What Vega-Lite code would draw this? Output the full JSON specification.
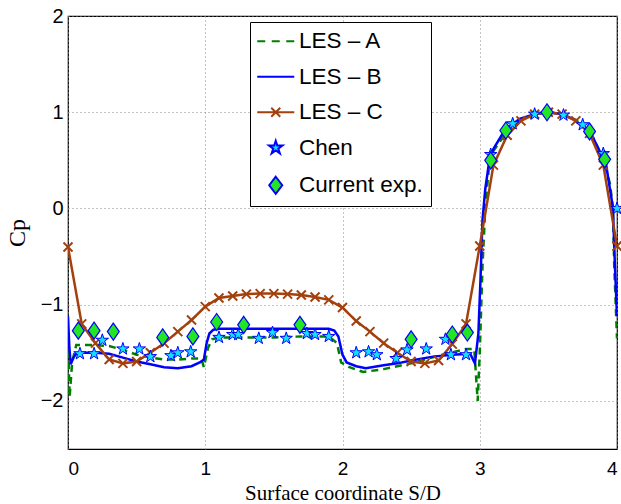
{
  "$schema": "https://vega.github.io/schema/vega-lite/v6.json",
  "width": 549,
  "height": 433,
  "autosize": {"type": "none"},
  "padding": {"left": 68, "top": 16, "right": 4, "bottom": 55},
  "background": "white",
  "config": {
    "view": {"stroke": "black", "strokeWidth": 1.2},
    "axis": {
      "labelFont": "Liberation Sans",
      "labelFontSize": 20,
      "labelColor": "black",
      "titleFont": "Liberation Serif",
      "titleFontSize": 24,
      "titleFontWeight": "normal",
      "titleColor": "black",
      "ticks": false,
      "domain": false,
      "grid": true,
      "gridDash": [1, 3],
      "gridColor": "#888888",
      "gridWidth": 1
    }
  },
  "datasets": {
    "lesA": [
      {"S": 0, "Cp": -1.35}, {"S": 0.012, "Cp": -1.96}, {"S": 0.03, "Cp": -1.6}, {"S": 0.06, "Cp": -1.42},
      {"S": 0.1, "Cp": -1.42}, {"S": 0.2, "Cp": -1.42}, {"S": 0.3, "Cp": -1.43}, {"S": 0.4, "Cp": -1.47},
      {"S": 0.5, "Cp": -1.52}, {"S": 0.6, "Cp": -1.55}, {"S": 0.7, "Cp": -1.57}, {"S": 0.8, "Cp": -1.57},
      {"S": 0.9, "Cp": -1.56}, {"S": 0.97, "Cp": -1.56}, {"S": 0.99, "Cp": -1.65}, {"S": 1.02, "Cp": -1.45},
      {"S": 1.05, "Cp": -1.36}, {"S": 1.1, "Cp": -1.34}, {"S": 1.3, "Cp": -1.34}, {"S": 1.5, "Cp": -1.34},
      {"S": 1.7, "Cp": -1.33}, {"S": 1.9, "Cp": -1.33}, {"S": 1.96, "Cp": -1.4}, {"S": 1.99, "Cp": -1.6},
      {"S": 2.05, "Cp": -1.65}, {"S": 2.15, "Cp": -1.7}, {"S": 2.3, "Cp": -1.67}, {"S": 2.5, "Cp": -1.61},
      {"S": 2.7, "Cp": -1.53}, {"S": 2.9, "Cp": -1.46}, {"S": 2.96, "Cp": -1.46}, {"S": 2.985, "Cp": -2.0},
      {"S": 3.0, "Cp": -1.5}, {"S": 3.02, "Cp": -0.6}, {"S": 3.04, "Cp": 0.0}, {"S": 3.07, "Cp": 0.48},
      {"S": 3.1, "Cp": 0.6}, {"S": 3.2, "Cp": 0.8}, {"S": 3.3, "Cp": 0.92}, {"S": 3.4, "Cp": 0.98},
      {"S": 3.5, "Cp": 1.0}, {"S": 3.6, "Cp": 0.98}, {"S": 3.7, "Cp": 0.92}, {"S": 3.8, "Cp": 0.8},
      {"S": 3.9, "Cp": 0.52}, {"S": 3.95, "Cp": 0.25}, {"S": 3.97, "Cp": 0.0}, {"S": 3.98, "Cp": -0.6},
      {"S": 4.0, "Cp": -1.35}
    ],
    "lesB": [
      {"S": 0, "Cp": -1.12}, {"S": 0.01, "Cp": -1.45}, {"S": 0.02, "Cp": -1.62}, {"S": 0.04, "Cp": -1.55},
      {"S": 0.06, "Cp": -1.51}, {"S": 0.1, "Cp": -1.5}, {"S": 0.2, "Cp": -1.5}, {"S": 0.3, "Cp": -1.51},
      {"S": 0.4, "Cp": -1.55}, {"S": 0.5, "Cp": -1.59}, {"S": 0.6, "Cp": -1.62}, {"S": 0.7, "Cp": -1.65},
      {"S": 0.8, "Cp": -1.66}, {"S": 0.9, "Cp": -1.64}, {"S": 0.96, "Cp": -1.6}, {"S": 0.99, "Cp": -1.57},
      {"S": 1.01, "Cp": -1.4}, {"S": 1.03, "Cp": -1.3}, {"S": 1.06, "Cp": -1.26}, {"S": 1.1, "Cp": -1.25},
      {"S": 1.5, "Cp": -1.25}, {"S": 1.9, "Cp": -1.25}, {"S": 1.94, "Cp": -1.27}, {"S": 1.97, "Cp": -1.33},
      {"S": 2.0, "Cp": -1.52}, {"S": 2.03, "Cp": -1.6}, {"S": 2.1, "Cp": -1.64}, {"S": 2.17, "Cp": -1.66},
      {"S": 2.3, "Cp": -1.63}, {"S": 2.4, "Cp": -1.61}, {"S": 2.5, "Cp": -1.58}, {"S": 2.66, "Cp": -1.54},
      {"S": 2.8, "Cp": -1.52}, {"S": 2.93, "Cp": -1.51}, {"S": 2.965, "Cp": -1.61}, {"S": 2.99, "Cp": -1.3},
      {"S": 3.005, "Cp": -0.75}, {"S": 3.02, "Cp": -0.12}, {"S": 3.04, "Cp": 0.2}, {"S": 3.07, "Cp": 0.5},
      {"S": 3.1, "Cp": 0.62}, {"S": 3.18, "Cp": 0.81}, {"S": 3.29, "Cp": 0.93}, {"S": 3.4, "Cp": 0.98},
      {"S": 3.5, "Cp": 1.0}, {"S": 3.6, "Cp": 0.98}, {"S": 3.68, "Cp": 0.93}, {"S": 3.81, "Cp": 0.78},
      {"S": 3.92, "Cp": 0.46}, {"S": 3.97, "Cp": 0.01}, {"S": 3.985, "Cp": -0.6}, {"S": 4.0, "Cp": -1.12}
    ],
    "lesC": [
      {"S": 0, "Cp": -0.4}, {"S": 0.1, "Cp": -1.2}, {"S": 0.2, "Cp": -1.4}, {"S": 0.3, "Cp": -1.57},
      {"S": 0.4, "Cp": -1.61}, {"S": 0.5, "Cp": -1.59}, {"S": 0.6, "Cp": -1.5}, {"S": 0.7, "Cp": -1.4},
      {"S": 0.8, "Cp": -1.28}, {"S": 0.9, "Cp": -1.16}, {"S": 1.0, "Cp": -1.02}, {"S": 1.1, "Cp": -0.93},
      {"S": 1.2, "Cp": -0.91}, {"S": 1.3, "Cp": -0.89}, {"S": 1.4, "Cp": -0.885}, {"S": 1.5, "Cp": -0.885},
      {"S": 1.6, "Cp": -0.89}, {"S": 1.7, "Cp": -0.9}, {"S": 1.8, "Cp": -0.92}, {"S": 1.9, "Cp": -0.95},
      {"S": 2.0, "Cp": -1.03}, {"S": 2.1, "Cp": -1.17}, {"S": 2.2, "Cp": -1.28}, {"S": 2.3, "Cp": -1.4},
      {"S": 2.4, "Cp": -1.5}, {"S": 2.5, "Cp": -1.59}, {"S": 2.6, "Cp": -1.61}, {"S": 2.7, "Cp": -1.58},
      {"S": 2.8, "Cp": -1.41}, {"S": 2.9, "Cp": -1.2}, {"S": 3.0, "Cp": -0.39}, {"S": 3.1, "Cp": 0.45},
      {"S": 3.2, "Cp": 0.76}, {"S": 3.3, "Cp": 0.91}, {"S": 3.4, "Cp": 0.98}, {"S": 3.5, "Cp": 1.0},
      {"S": 3.6, "Cp": 0.98}, {"S": 3.7, "Cp": 0.91}, {"S": 3.8, "Cp": 0.78}, {"S": 3.9, "Cp": 0.45},
      {"S": 4.0, "Cp": -0.39}
    ],
    "chen": [
      {"S": 0.087, "Cp": -1.51}, {"S": 0.19, "Cp": -1.51}, {"S": 0.25, "Cp": -1.37}, {"S": 0.4, "Cp": -1.46},
      {"S": 0.52, "Cp": -1.46}, {"S": 0.6, "Cp": -1.54}, {"S": 0.75, "Cp": -1.53}, {"S": 0.8, "Cp": -1.5},
      {"S": 0.894, "Cp": -1.49}, {"S": 1.1, "Cp": -1.34}, {"S": 1.2, "Cp": -1.31}, {"S": 1.24, "Cp": -1.31},
      {"S": 1.39, "Cp": -1.35}, {"S": 1.49, "Cp": -1.29}, {"S": 1.59, "Cp": -1.35}, {"S": 1.74, "Cp": -1.3},
      {"S": 1.8, "Cp": -1.31}, {"S": 1.9, "Cp": -1.33}, {"S": 2.1, "Cp": -1.5}, {"S": 2.19, "Cp": -1.49},
      {"S": 2.25, "Cp": -1.52}, {"S": 2.39, "Cp": -1.56}, {"S": 2.47, "Cp": -1.47}, {"S": 2.61, "Cp": -1.46},
      {"S": 2.75, "Cp": -1.36}, {"S": 2.79, "Cp": -1.52}, {"S": 2.9, "Cp": -1.52}, {"S": 3.08, "Cp": 0.56},
      {"S": 3.24, "Cp": 0.88}, {"S": 3.4, "Cp": 0.98}, {"S": 3.61, "Cp": 0.97}, {"S": 3.75, "Cp": 0.87},
      {"S": 3.9, "Cp": 0.57}, {"S": 4.0, "Cp": 0.0}
    ],
    "exp": [
      {"S": 0.075, "Cp": -1.27}, {"S": 0.19, "Cp": -1.27}, {"S": 0.33, "Cp": -1.28}, {"S": 0.69, "Cp": -1.34},
      {"S": 0.91, "Cp": -1.33}, {"S": 1.083, "Cp": -1.18}, {"S": 1.28, "Cp": -1.21}, {"S": 1.69, "Cp": -1.21},
      {"S": 2.5, "Cp": -1.36}, {"S": 2.8, "Cp": -1.31}, {"S": 2.91, "Cp": -1.29}, {"S": 3.08, "Cp": 0.5},
      {"S": 3.19, "Cp": 0.81}, {"S": 3.49, "Cp": 1.0}, {"S": 3.8, "Cp": 0.8}, {"S": 3.91, "Cp": 0.51}
    ],
    "legend": [
      {"series": "LES – A"}, {"series": "LES – B"}, {"series": "LES – C"}, {"series": "Chen"}, {"series": "Current exp."}
    ]
  },
  "encoding": {
    "x": {
      "field": "S", "type": "quantitative",
      "scale": {"domain": [0, 4], "nice": false, "zero": false},
      "axis": {"values": [0, 1, 2, 3, 4], "format": "d", "labelFontSize": 19, "labelPadding": 10, "title": "Surface coordinate S/D", "titleFontSize": 21, "titleBaseline": "bottom", "titleY": 54}
    },
    "y": {
      "field": "Cp", "type": "quantitative",
      "scale": {"domain": [-2.5, 2], "nice": false, "zero": false},
      "axis": {"values": [-2, -1, 0, 1, 2], "format": "d", "labelPadding": 5, "title": "Cp", "titleAngle": -90, "titleBaseline": "alphabetic", "titleX": -44, "titleY": 216.5}
    }
  },
  "layer": [
    {
      "data": {"name": "lesA"},
      "mark": {"type": "line", "color": "#008000", "strokeWidth": 2.5, "strokeDash": [7, 5], "clip": true}
    },
    {
      "data": {"name": "lesB"},
      "mark": {"type": "line", "color": "#0000ff", "strokeWidth": 2.5, "clip": true}
    },
    {
      "data": {"name": "lesC"},
      "mark": {"type": "line", "color": "#a3410e", "strokeWidth": 2.5, "clip": true}
    },
    {
      "data": {"name": "lesC"},
      "mark": {"type": "point", "shape": "M-1,-1L1,1M-1,1L1,-1", "size": 81, "filled": false, "stroke": "#a3410e", "strokeWidth": 2, "opacity": 1}
    },
    {
      "data": {"name": "chen"},
      "mark": {"type": "point", "shape": "M0,-1L0.225,-0.309L0.951,-0.309L0.363,0.118L0.588,0.809L0,0.382L-0.588,0.809L-0.363,0.118L-0.951,-0.309L-0.225,-0.309Z", "size": 169, "filled": true, "fill": "#10e0ff", "stroke": "#0000ff", "strokeWidth": 1, "opacity": 1}
    },
    {
      "data": {"name": "exp"},
      "mark": {"type": "point", "shape": "M0,-1L0.7,0L0,1L-0.7,0Z", "size": 289, "filled": true, "fill": "#22e622", "stroke": "#0000ff", "strokeWidth": 1.2, "opacity": 1}
    },
    {
      "data": {"name": "legend"},
      "mark": {"type": "point", "strokeWidth": 2, "opacity": 1},
      "encoding": {
        "shape": {
          "field": "series", "type": "nominal",
          "scale": {"domain": ["LES – A", "LES – B", "LES – C", "Chen", "Current exp."],
            "range": ["M-1.85,0L-1.05,0M-0.4,0L0.4,0M1.05,0L1.85,0", "M-1.85,0L1.85,0", "M-1.85,0L1.85,0M-0.45,-0.45L0.45,0.45M-0.45,0.45L0.45,-0.45", "M0,-0.7L0.157,-0.216L0.666,-0.216L0.254,0.083L0.412,0.566L0,0.267L-0.412,0.566L-0.254,0.083L-0.666,-0.216L-0.157,-0.216Z", "M0,-0.85L0.65,0L0,0.85L-0.65,0Z"]},
          "legend": {"orient": "none", "legendX": 182, "legendY": 6, "title": null, "padding": 8, "rowPadding": 12.5, "symbolSize": 400, "symbolStrokeWidth": 2, "symbolOffset": 6.5, "labelOffset": 12, "labelFont": "Liberation Sans", "labelFontSize": 22.5, "labelColor": "black", "strokeColor": "black", "fillColor": "white", "cornerRadius": 0, "labelLimit": 300}
        },
        "stroke": {
          "field": "series", "type": "nominal",
          "scale": {"domain": ["LES – A", "LES – B", "LES – C", "Chen", "Current exp."], "range": ["#008000", "#0000ff", "#a3410e", "#0000ff", "#0000ff"]},
          "legend": {"orient": "none", "legendX": 182, "legendY": 6, "title": null, "padding": 8, "rowPadding": 12.5, "symbolSize": 400, "symbolStrokeWidth": 2, "symbolOffset": 6.5, "labelOffset": 12, "labelFont": "Liberation Sans", "labelFontSize": 22.5, "labelColor": "black", "strokeColor": "black", "fillColor": "white", "cornerRadius": 0, "labelLimit": 300}
        },
        "fill": {
          "field": "series", "type": "nominal",
          "scale": {"domain": ["LES – A", "LES – B", "LES – C", "Chen", "Current exp."], "range": ["transparent", "transparent", "transparent", "#10e0ff", "#22e622"]},
          "legend": {"orient": "none", "legendX": 182, "legendY": 6, "title": null, "padding": 8, "rowPadding": 12.5, "symbolSize": 400, "symbolStrokeWidth": 2, "symbolOffset": 6.5, "labelOffset": 12, "labelFont": "Liberation Sans", "labelFontSize": 22.5, "labelColor": "black", "strokeColor": "black", "fillColor": "white", "cornerRadius": 0, "labelLimit": 300}
        }
      }
    }
  ]
}
